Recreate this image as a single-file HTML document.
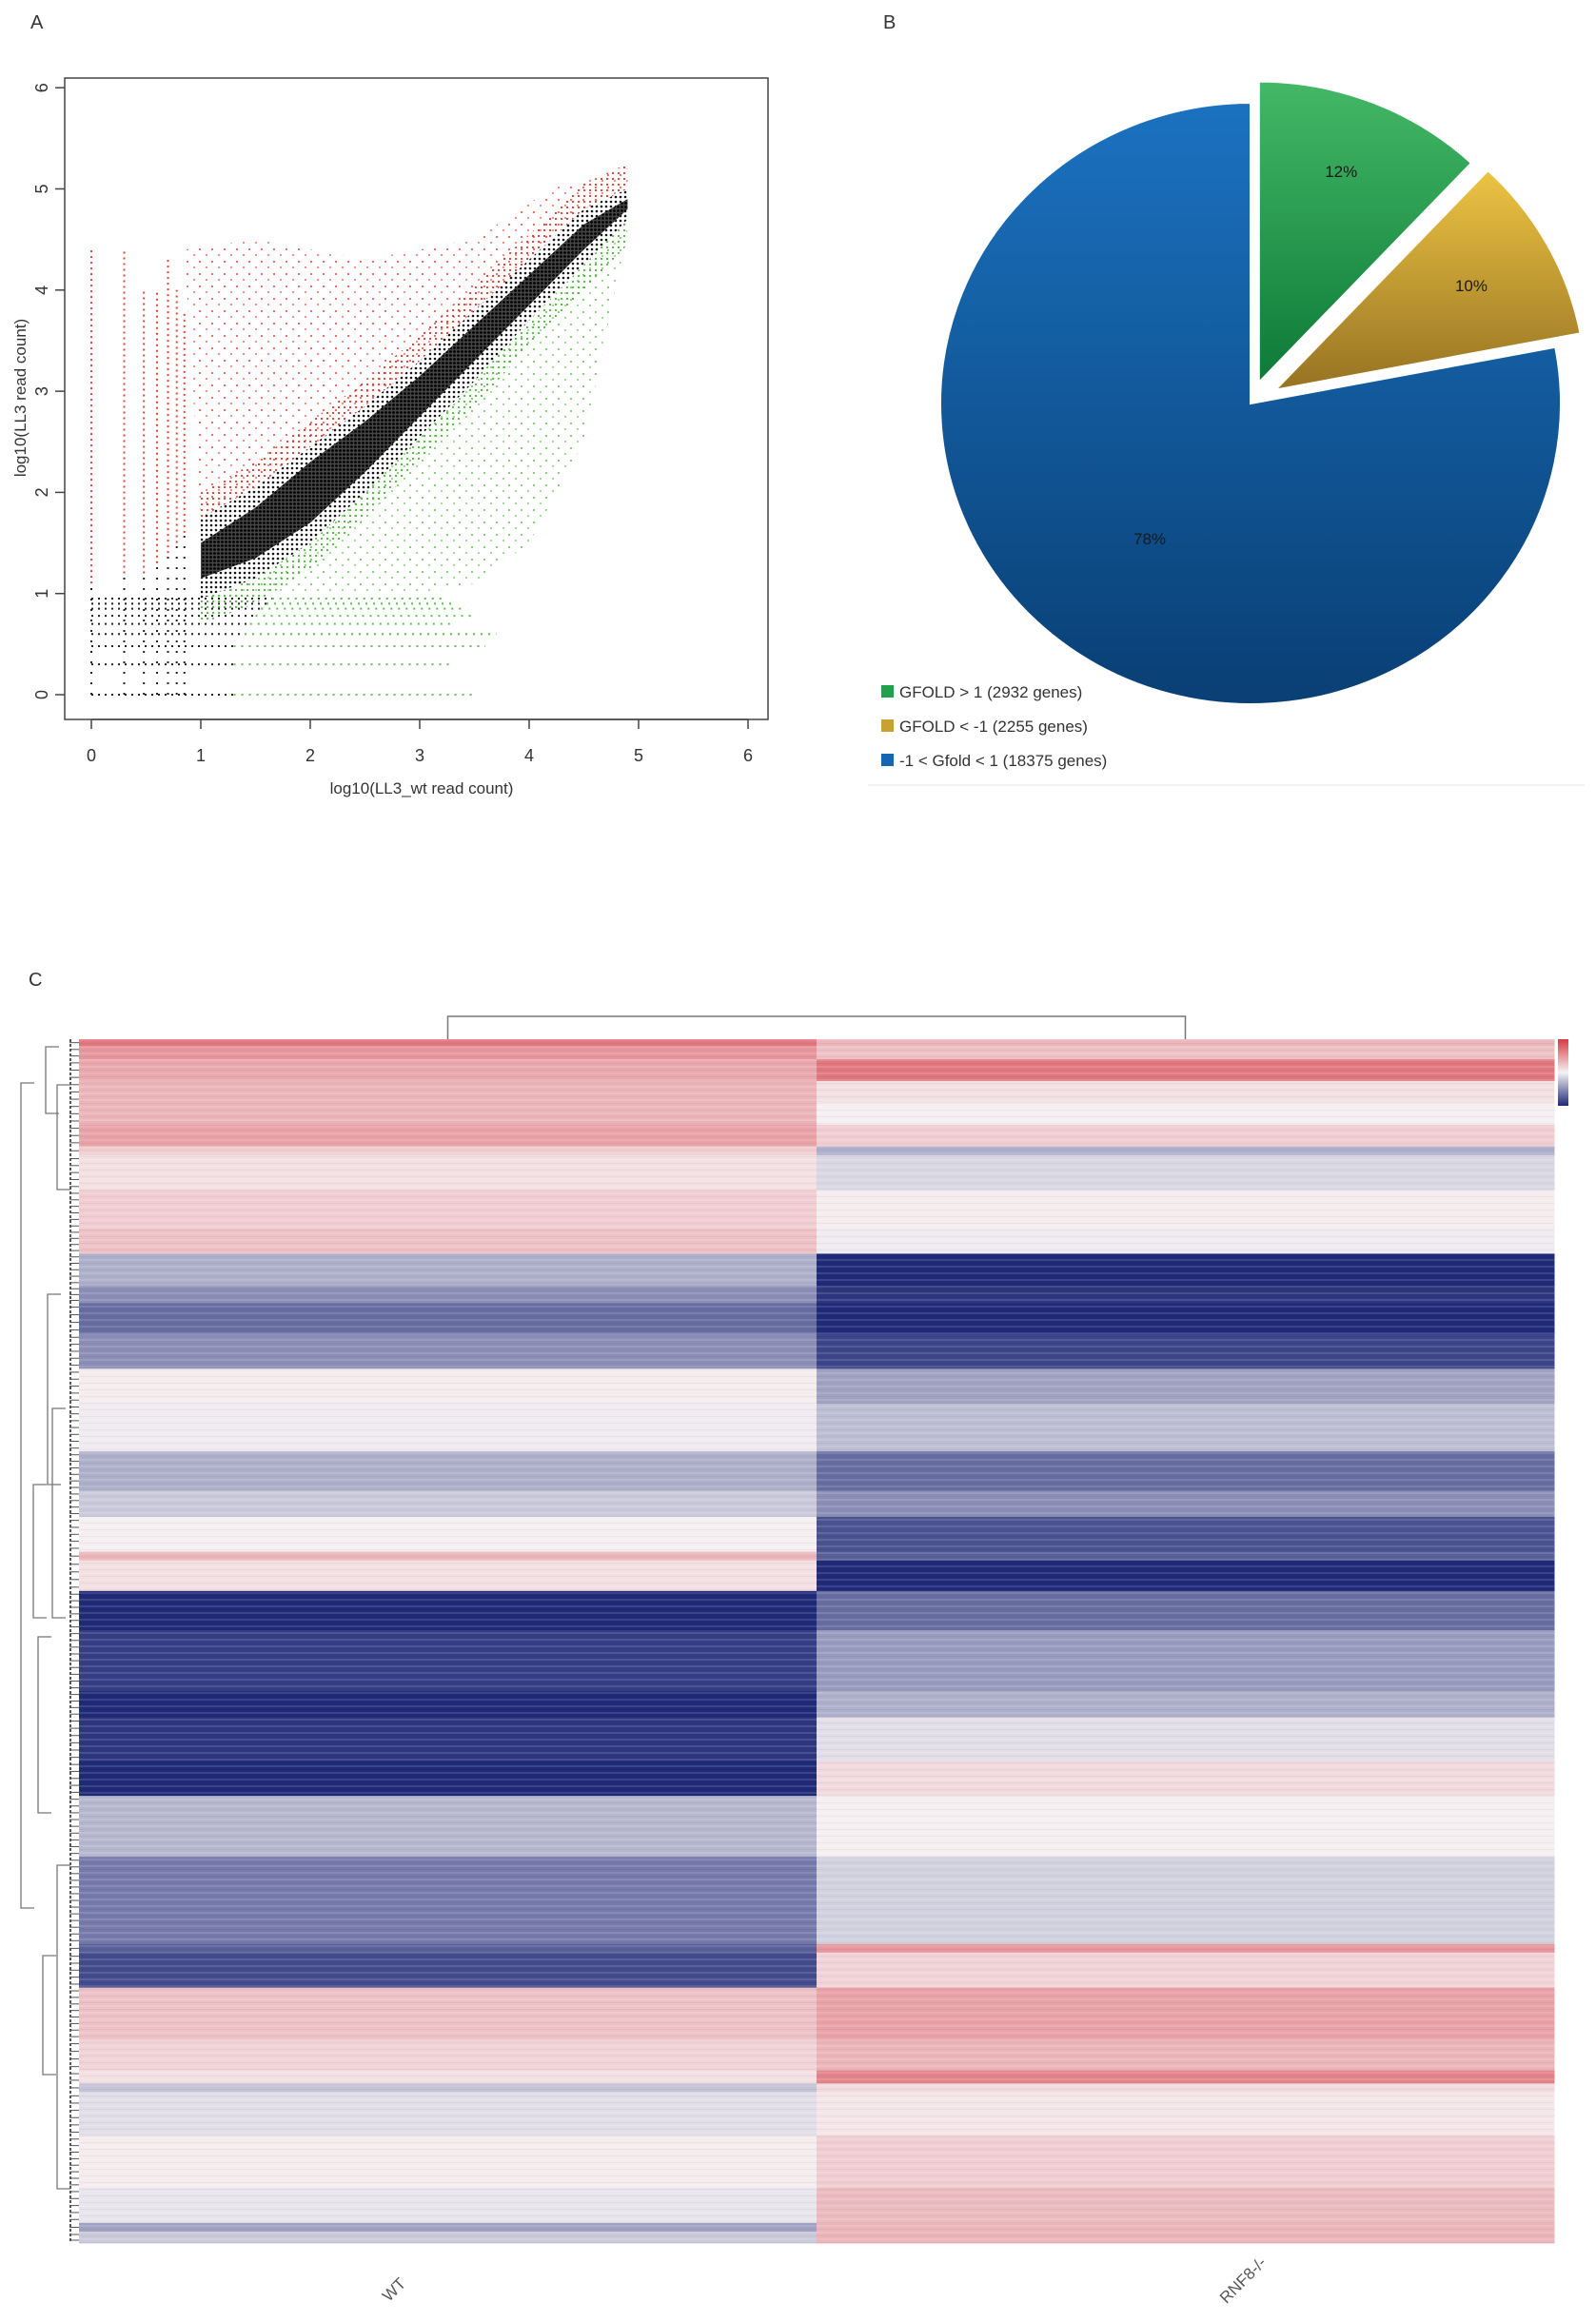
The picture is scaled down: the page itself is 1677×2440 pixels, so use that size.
<!DOCTYPE html>
<html><head><meta charset="utf-8">
<style>
body{margin:0;background:#fff;}
svg{display:block;font-family:"Liberation Sans",sans-serif;}
</style></head>
<body>
<svg id="fig" width="1677" height="2440" viewBox="0 0 1677 2440">
<defs>
<pattern id="pBlack" width="4" height="4" patternUnits="userSpaceOnUse"><rect width="4" height="4" fill="#444"/><circle cx="1.5" cy="1.5" r="1.4" fill="#000"/></pattern>
<pattern id="pBlackL" width="5" height="5" patternUnits="userSpaceOnUse"><circle cx="2" cy="2" r="1.3" fill="#111"/></pattern>
<pattern id="pRed" width="13" height="13" patternUnits="userSpaceOnUse"><circle cx="2" cy="2" r="1" fill="#e8413a"/><circle cx="9" cy="8" r="0.9" fill="#e8413a"/></pattern>
<pattern id="pRedD" width="6" height="6" patternUnits="userSpaceOnUse"><circle cx="2" cy="2" r="1.1" fill="#e5332b"/></pattern>
<pattern id="pGreen" width="13" height="13" patternUnits="userSpaceOnUse"><circle cx="2" cy="3" r="1" fill="#5cc24a"/><circle cx="9" cy="9" r="0.9" fill="#5cc24a"/></pattern>
<pattern id="pGreenD" width="6" height="6" patternUnits="userSpaceOnUse"><circle cx="2" cy="2" r="1.1" fill="#4cb83c"/></pattern>
<pattern id="stripes" width="10" height="7" patternUnits="userSpaceOnUse"><rect width="10" height="2" fill="#fff" opacity="0.12"/><rect y="4" width="10" height="1" fill="#000" opacity="0.04"/></pattern>
<linearGradient id="gBlue" x1="0" y1="0" x2="0" y2="1"><stop offset="0" stop-color="#1b72c0"/><stop offset="1" stop-color="#093f74"/></linearGradient>
<linearGradient id="gGreen" x1="0" y1="0" x2="0" y2="1"><stop offset="0" stop-color="#44b866"/><stop offset="1" stop-color="#0d7a38"/></linearGradient>
<linearGradient id="gYellow" x1="0" y1="0" x2="0" y2="1"><stop offset="0" stop-color="#ecc443"/><stop offset="1" stop-color="#977222"/></linearGradient>
<linearGradient id="gKey" x1="0" y1="0" x2="0" y2="1"><stop offset="0" stop-color="#d63a44"/><stop offset="0.5" stop-color="#f5f2f4"/><stop offset="1" stop-color="#1f2a78"/></linearGradient>
</defs>
<text x="32" y="30" font-size="20" fill="#333">A</text>
<text x="928" y="30" font-size="20" fill="#333">B</text>
<text x="30" y="1036" font-size="20" fill="#333">C</text>
<g id="scatter"></g>
<g id="pie"></g>
<g id="heat"></g>
</svg>
<script>
const NS="http://www.w3.org/2000/svg";
// ---------- Scatter data ----------
const xTicks=[0,1,2,3,4,5,6];
const yTicks=[0,1,2,3,4,5,6];
const bandX=[1.0,1.5,2.0,2.5,3.0,3.5,4.0,4.5,4.9];
const bandUpper=[1.75,2.05,2.45,2.85,3.3,3.8,4.3,4.8,5.0];
const bandLower=[0.95,1.15,1.5,2.0,2.55,3.1,3.7,4.25,4.7];
const coreUpper=[1.5,1.85,2.3,2.7,3.15,3.65,4.15,4.65,4.9];
const coreLower=[1.15,1.35,1.7,2.2,2.75,3.3,3.85,4.4,4.8];
const redTopX=[0.85,1.5,2.5,3.5,4.2,4.9];
const redTopY=[4.4,4.5,4.3,4.5,5.0,5.2];
const greenBotX=[1.7,2.5,3.0,3.5,4.0,4.5,4.9];
const greenBotY=[1.0,1.0,1.0,1.1,1.5,2.5,4.6];
const colX=[0,0.3,0.48,0.6,0.7,0.78,0.85];
const colRedFrom=[1.1,1.2,1.2,1.3,1.4,1.5,1.6];
const colRedTo=[4.4,4.4,4.0,4.0,4.3,4.0,3.8];
const rowY=[0,0.3,0.48,0.6,0.7,0.78,0.85,0.9,0.95];
const rowBlackTo=[1.3,1.3,1.3,1.4,1.45,1.5,1.55,1.6,1.65];
const rowGreenTo=[3.5,3.3,3.6,3.7,3.3,3.5,3.4,3.3,3.2];
const sx=v=>96+v*115, sy=v=>730-v*106.3;
function el(tag,attrs,parent){const e=document.createElementNS(NS,tag);for(const k in attrs)e.setAttribute(k,attrs[k]);parent.appendChild(e);return e;}
function poly(topX,topY,botX,botY){let d="M"+sx(topX[0])+","+sy(topY[0]);for(let i=1;i<topX.length;i++)d+=" L"+sx(topX[i])+","+sy(topY[i]);for(let i=botX.length-1;i>=0;i--)d+=" L"+sx(botX[i])+","+sy(botY[i]);return d+"Z";}
const S=document.getElementById('scatter');
let redReg=el('path',{d:poly(redTopX,redTopY,bandX,bandUpper),fill:'url(#pRed)'},S);


let redD=el('path',{d:poly(bandX,bandUpper.map(v=>v+0.25),bandX,bandUpper),fill:'url(#pRedD)'},S);


let gReg=el('path',{d:poly(greenBotX,greenBotY,bandX,bandLower),fill:'url(#pGreen)'},S);


let gD=el('path',{d:poly(bandX,bandLower.map(v=>v-0.25),bandX,bandLower),fill:'url(#pGreenD)'},S);


let blk=el('path',{d:poly(bandX,bandUpper,bandX,bandLower),fill:'url(#pBlackL)'},S);


let core=el('path',{d:poly(bandX,coreUpper,bandX,coreLower),fill:'url(#pBlack)'},S);


colX.forEach((x,i)=>{
  let c=el('line',{x1:sx(x),x2:sx(x),y1:sy(colRedFrom[i]),y2:sy(colRedTo[i]),stroke:'#e8413a','stroke-width':2,'stroke-dasharray':'2 4'},S);
  
  
  let k=el('line',{x1:sx(x),x2:sx(x),y1:sy(0),y2:sy(colRedFrom[i]),stroke:'#222','stroke-width':2,'stroke-dasharray':'2 9'},S);
  
  
});
rowY.forEach((y,i)=>{
  let a=el('line',{x1:sx(0),x2:sx(rowBlackTo[i]),y1:sy(y),y2:sy(y),stroke:'#222','stroke-width':2,'stroke-dasharray':'2 5'},S);
  
  
  let b=el('line',{x1:sx(rowBlackTo[i]),x2:sx(rowGreenTo[i]),y1:sy(y),y2:sy(y),stroke:'#5cc24a','stroke-width':2,'stroke-dasharray':'2 6'},S);
  
  
});
let box=el('rect',{x:68,y:82,width:739,height:674,fill:'none',stroke:'#444','stroke-width':1.5},S);


el('line',{x1:sx(0),x2:sx(6),y1:756,y2:756,stroke:'#444','stroke-width':1.5},S);
xTicks.forEach(t=>{
  el('line',{x1:sx(t),x2:sx(t),y1:756,y2:766,stroke:'#444','stroke-width':1.5},S);
  let tx=el('text',{x:sx(t),y:800,'font-size':18,'text-anchor':'middle',fill:'#333'},S);
  tx.textContent=t;
  
  
});
yTicks.forEach(t=>{
  el('line',{x1:58,x2:68,y1:sy(t),y2:sy(t),stroke:'#444','stroke-width':1.5},S);
  let tx=el('text',{x:50,y:sy(t),'font-size':18,'text-anchor':'middle',fill:'#333',transform:`rotate(-90 50 ${sy(t)})`},S);
  tx.textContent=t;
  
  
});
let xt=el('text',{x:443,y:834,'font-size':17,'text-anchor':'middle',fill:'#333'},S);
xt.textContent="log10(LL3_wt read count)";


let yt=el('text',{x:27,y:418,'font-size':17,'text-anchor':'middle',fill:'#333',transform:'rotate(-90 27 418)'},S);
yt.textContent="log10(LL3 read count)";



// ---------- Pie data ----------
const pieLabels=["GFOLD > 1 (2932 genes)","GFOLD < -1 (2255 genes)","-1 < Gfold < 1 (18375 genes)"];
const pieValues=[12,10,78];
const pieFills=["url(#gGreen)","url(#gYellow)","url(#gBlue)"];
const pieSwatch=["#22a04c","#c9a032","#1565b0"];
const pieExplode=[24,30,0];
const P=document.getElementById('pie');
const cx=1314,cy=424,rx=326,ry=316;
let acc=0;const tot=pieValues.reduce((a,b)=>a+b,0);
pieValues.forEach((v,i)=>{
  const a0=acc/tot*2*Math.PI, a1=(acc+v)/tot*2*Math.PI; acc+=v;
  const am=(a0+a1)/2, ox=pieExplode[i]*Math.sin(am), oy=-pieExplode[i]*Math.cos(am);
  const X=a=>cx+ox+rx*Math.sin(a), Y=a=>cy+oy-ry*Math.cos(a);
  const large=(a1-a0)>Math.PI?1:0;
  const d=`M${cx+ox},${cy+oy} L${X(a0)},${Y(a0)} A${rx},${ry} 0 ${large} 1 ${X(a1)},${Y(a1)} Z`;
  let p=el('path',{d:d,fill:pieFills[i],stroke:'#fff','stroke-width':2},P);
  
  
  const lr=0.72;
  let lx=cx+ox+rx*lr*Math.sin(am), ly=cy+oy-ry*lr*Math.cos(am);
  if(i==0){ly-=10;}
  if(i==2){lx=1208;ly=566;}
  let t=el('text',{x:lx,y:ly+6,'font-size':17,'text-anchor':'middle',fill:'#1a1a1a'},P);
  t.textContent=v+"%";
  
  
  let sw=el('rect',{x:926,y:720+i*36,width:13,height:13,fill:pieSwatch[i]},P);
  
  
  let lt=el('text',{x:945,y:733+i*36,'font-size':17,fill:'#333'},P);
  lt.textContent=pieLabels[i];
  
  
});
el('line',{x1:912,x2:1665,y1:825,y2:825,stroke:'#eee','stroke-width':1.5},P);

// ---------- Heatmap data ----------
const samples=["WT","RNF8-/-"];
const bandSizes=[8,15,25,25,25,25,10,40,45,28,37,20,35,40,40,55,45,30,40,10,35,45,70,30,50,40,70,100,10,40,60,35,15,10,50,60,40,10,13];
const wtValues=[2,1.5,1.2,1,1,1.3,0.6,0.3,0.6,0.8,-1,-1.5,-2,-1.5,0.1,-0.1,-1,-0.6,0.05,1,0.3,-3,-2.7,-3,-2.8,-3,-0.9,-1.8,-2.2,-2.5,0.8,0.5,0.3,-0.7,-0.3,0.1,-0.2,-1.2,-0.6];
const rnfValues=[1,0.8,2,0.3,0.05,0.6,-1,-0.4,0.1,-0.1,-3,-2.8,-3,-2.6,-1.2,-0.8,-2,-1.5,-2.4,-2.2,-3,-2,-1.3,-1,-0.3,0.4,0.05,-0.5,1.5,0.5,1.3,1,1.8,0.4,0.2,0.6,0.9,1,1];
const H=document.getElementById('heat');
const hx0=83,hx1=1633,hy0=1092,hy1=2357;
const colW=(hx1-hx0)/samples.length;
const total=bandSizes.reduce((a,b)=>a+b,0);
const hy=c=>hy0+c/total*(hy1-hy0);
function col(v){
  const lo=[31,42,120],mid=[246,242,244],hi=[214,58,68];
  const t=Math.max(-1,Math.min(1,v/3));
  const a=t<0?lo:hi, f=Math.abs(t);
  return `rgb(${Math.round(mid[0]+(a[0]-mid[0])*f)},${Math.round(mid[1]+(a[1]-mid[1])*f)},${Math.round(mid[2]+(a[2]-mid[2])*f)})`;
}
let cum=0;
bandSizes.forEach((s,i)=>{
  const y0=hy(cum),y1=hy(cum+s);cum+=s;
  [wtValues[i],rnfValues[i]].forEach((v,j)=>{
    let r=el('rect',{x:hx0+j*colW,y:y0,width:colW+0.5,height:y1-y0+0.5,fill:col(v)},H);
    
    
  });
  for(let k=0;k<Math.max(1,Math.round(s/8));k++){
    const yy=y0+(k+0.5)*(y1-y0)/Math.max(1,Math.round(s/8));
    el('line',{x1:hx0-10,x2:hx0,y1:yy,y2:yy,stroke:'#555','stroke-width':1},H);
  }
});
let st=el('rect',{x:hx0,y:hy0,width:hx1-hx0,height:hy1-hy0,fill:'url(#stripes)'},H);


el('line',{x1:hx0-9,x2:hx0-9,y1:hy0,y2:hy1,stroke:'#555','stroke-width':2,'stroke-dasharray':'3 2'},H);
const dendro=[[22,1138,2005],[48,1100,1170],[60,1140,1250],[50,1360,1560],[35,1560,1700],[40,1720,1905],[55,1480,1700],[45,2055,2180],[60,1960,2300]];
dendro.forEach(d=>{
  let l=el('path',{d:`M${d[0]+14},${d[1]} H${d[0]} V${d[2]} H${d[0]+14}`,fill:'none',stroke:'#777','stroke-width':1.3},H);
  
  
});
let cd=el('path',{d:`M${hx0+colW/2},1092 V1068 H${hx0+colW*1.5} V1092`,fill:'none',stroke:'#777','stroke-width':1.5},H);


let key=el('rect',{x:1637,y:1092,width:11,height:70,fill:'url(#gKey)'},H);


const labPos=[[418,2410],[1310,2400]];
samples.forEach((s,j)=>{
  let t=el('text',{x:labPos[j][0],y:labPos[j][1],'font-size':17,'text-anchor':'middle',fill:'#555',transform:`rotate(-45 ${labPos[j][0]} ${labPos[j][1]})`},H);
  t.textContent=s;
  
  
});
</script>
</body></html>
